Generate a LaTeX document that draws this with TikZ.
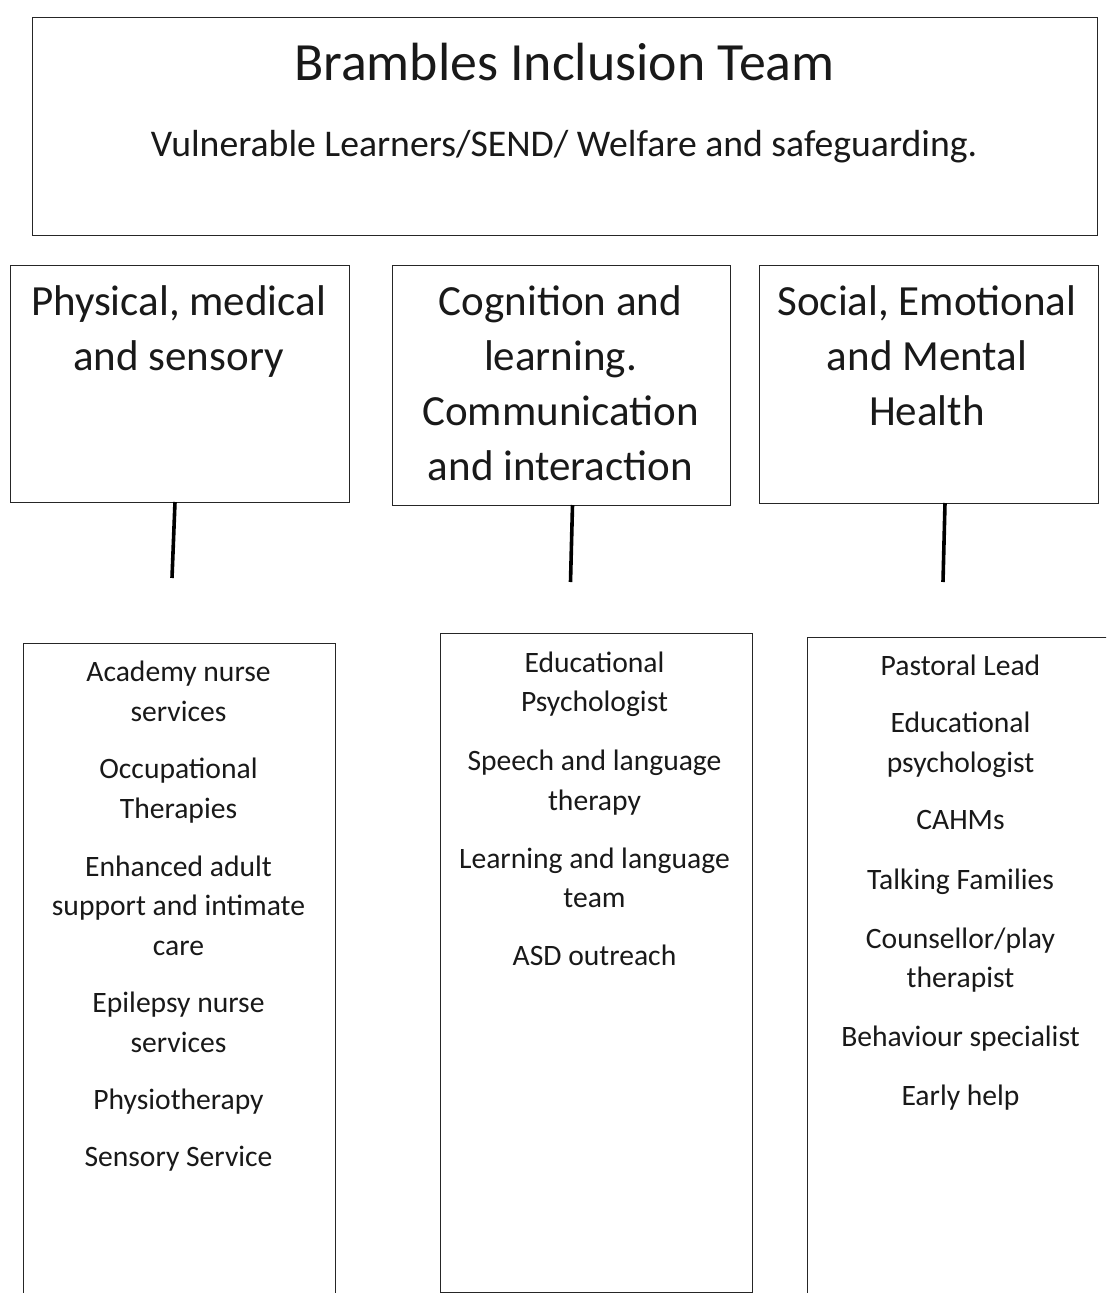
\documentclass[tikz,border=0pt]{standalone}
\usepackage{fontspec}
\setmainfont{Carlito}
\begin{document}
\begin{tikzpicture}[x=1pt,y=-1pt,
  box/.style={draw=black!85, line width=1.4pt, inner sep=0pt, anchor=north west},
  link/.style={draw=black, line width=3.6pt},
  titletext/.style={anchor=base, inner sep=0pt, text=black!90, font=\fontsize{53.8}{60}\selectfont},
  subtext/.style={anchor=base, inner sep=0pt, text=black!90, font=\fontsize{37.7}{44}\selectfont},
  midtext/.style={anchor=base, inner sep=0pt, text=black!90, font=\fontsize{43}{50}\selectfont},
  itemtext/.style={anchor=base, inner sep=0pt, text=black!90, font=\fontsize{29.6}{35}\selectfont}]
\useasboundingbox (0,0) rectangle (1106,1293);
\clip (0,0) rectangle (1106,1293);
\fill[white] (0,0) rectangle (1106,1293);

% top box
\node[box, minimum width=1065pt, minimum height=218pt] (top) at (32,17) {};
\node[titletext] (title) at (564.5,80) {Brambles Inclusion Team};
\node[subtext] (subtitle) at (564,156) {Vulnerable Learners/SEND/ Welfare and safeguarding.};

% middle boxes
\node[box, minimum width=339pt, minimum height=237pt] (pm) at (9.5,265) {};
\node[box, minimum width=338pt, minimum height=240pt] (cl) at (392,265) {};
\node[box, minimum width=339pt, minimum height=238pt] (se) at (758.5,265) {};

\foreach \t/\y [count=\i] in {{Physical, medical}/315, {and sensory}/370}
  \node[midtext] (pmt\i) at (178.5,\y) {\t};
\foreach \t/\y [count=\i] in {{Cognition and}/315, {learning.}/370, {Communication}/425, {and interaction}/480}
  \node[midtext] (clt\i) at (560.5,\y) {\t};
\foreach \t/\y [count=\i] in {{Social, Emotional}/315, {and Mental}/370, {Health}/425}
  \node[midtext] (set\i) at (927,\y) {\t};

% connector ends
\coordinate (pmA) at (175,502);
\coordinate (pmB) at (172,578);
\coordinate (clA) at (572.5,505);
\coordinate (clB) at (570.5,582);
\coordinate (seA) at (945,503);
\coordinate (seB) at (943,582);
\draw[link] (pmA) -- (pmB);
\draw[link] (clA) -- (clB);
\draw[link] (seA) -- (seB);

% bottom boxes
\node[box, minimum width=312pt, minimum height=680pt] (pmlist) at (23,643) {};
\node[box, minimum width=312pt, minimum height=658.5pt] (cllist) at (439.5,633) {};
\node[box, minimum width=314pt, minimum height=680pt] (selist) at (806.5,637) {};

\foreach \t/\y [count=\i] in {{Academy nurse}/681, {services}/721, {Occupational}/778, {Therapies}/818,
    {Enhanced adult}/876, {support and intimate}/915, {care}/955, {Epilepsy nurse}/1012,
    {services}/1052, {Physiotherapy}/1109, {Sensory Service}/1166}
  \node[itemtext] (pml\i) at (178.5,\y) {\t};
\foreach \t/\y [count=\i] in {{Educational}/672, {Psychologist}/711, {Speech and language}/770,
    {therapy}/810, {Learning and language}/868, {team}/907, {ASD outreach}/965}
  \node[itemtext] (cll\i) at (594.5,\y) {\t};
\foreach \t/\y [count=\i] in {{Pastoral Lead}/675, {Educational}/732, {psychologist}/772, {CAHMs}/829,
    {Talking Families}/889, {Counsellor/play}/948, {therapist}/987, {Behaviour specialist}/1046,
    {Early help}/1105}
  \node[itemtext] (sel\i) at (960.5,\y) {\t};
\end{tikzpicture}
\end{document}
